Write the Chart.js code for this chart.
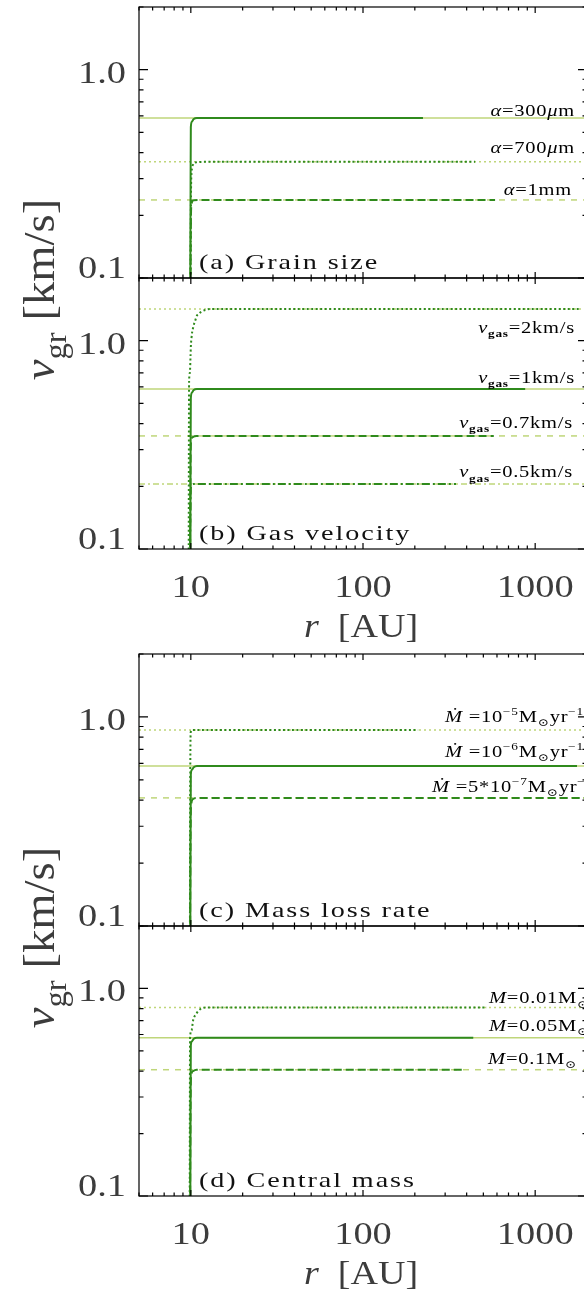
<!DOCTYPE html>
<html>
<head>
<meta charset="utf-8">
<script src="https://cdn.jsdelivr.net/npm/chart.js@4.4.0/dist/chart.umd.min.js"></script>
<style>
  html, body { margin: 0; padding: 0; background: #fff; }
  body { width: 584px; height: 1293px; overflow: hidden; position: relative; }
  canvas { position: absolute; left: 0; top: 0; }
</style>
</head>
<body>
<canvas id="pa" width="600" height="1293"></canvas>
<canvas id="pb" width="600" height="1293"></canvas>
<canvas id="pc" width="600" height="1293"></canvas>
<canvas id="pd" width="600" height="1293"></canvas>
<script>
// Axis ranges and ticks
const R_MIN = 5, R_MAX = 2000;
const V_MIN = 0.1, V_MAX = 2.0;
const xTicks = [5, 6, 7, 8, 9, 10, 20, 30, 40, 50, 60, 70, 80, 90, 100,
                200, 300, 400, 500, 600, 700, 800, 900, 1000, 2000];
const yTicks = [0.1, 0.2, 0.3, 0.4, 0.5, 0.6, 0.7, 0.8, 0.9, 1.0, 2.0];
const xTickLabels = [10, 100, 1000];
const yTickLabels = [0.1, 1.0];
const TERM_R = [5, 2000];

// (a) Grain size: terminal velocities (300um, 700um, 1mm) and numerical curves
const grainTerm = [0.587, 0.361, 0.237];
const grain300R = [9.93, 9.97, 10.0, 10.13, 10.4, 10.85, 12, 223];
const grain300V = [0.09, 0.3, 0.53, 0.562, 0.58, 0.587, 0.587, 0.587];
const grain700R = [9.95, 10.02, 10.1, 10.3, 10.7, 12, 448];
const grain700V = [0.09, 0.25, 0.32, 0.35, 0.359, 0.361, 0.361];
const grain1mmR = [9.95, 10.02, 10.1, 10.4, 12, 585];
const grain1mmV = [0.09, 0.2, 0.228, 0.236, 0.237, 0.237];

// (b) Gas velocity (2, 1, 0.7, 0.5 km/s)
const gasTerm = [1.42, 0.587, 0.349, 0.205];
const gas2R = [9.72, 9.77, 9.87, 9.96, 10.0, 10.09, 10.17, 10.31, 10.45, 10.65, 10.84, 11.13, 11.54, 12.34, 13.1, 1800];
const gas2V = [0.09, 0.635, 0.70, 0.847, 0.936, 1.03, 1.093, 1.155, 1.207, 1.262, 1.318, 1.348, 1.378, 1.41, 1.42, 1.42];
const gas1R = [9.93, 9.97, 10.0, 10.13, 10.4, 10.85, 12, 875];
const gas1V = [0.09, 0.3, 0.53, 0.562, 0.58, 0.587, 0.587, 0.587];
const gas07R = [9.9, 9.97, 10.05, 10.3, 10.8, 575];
const gas07V = [0.09, 0.28, 0.33, 0.345, 0.349, 0.349];
const gas05R = [9.9, 9.97, 10.05, 10.4, 347];
const gas05V = [0.09, 0.18, 0.2, 0.205, 0.205];

// (c) Mass loss rate (1e-5, 1e-6, 5e-7 Msun/yr)
const mdotTerm = [0.867, 0.583, 0.41];
const mdot5R = [9.88, 9.92, 10.0, 10.2, 209];
const mdot5V = [0.09, 0.5, 0.85, 0.867, 0.867];
const mdot6R = [9.93, 9.97, 10.0, 10.13, 10.4, 10.85, 12, 1750];
const mdot6V = [0.09, 0.3, 0.53, 0.558, 0.575, 0.583, 0.583, 0.583];
const mdot57R = [9.9, 9.97, 10.05, 10.3, 10.8, 1950];
const mdot57V = [0.09, 0.3, 0.38, 0.405, 0.41, 0.41];

// (d) Central mass (0.01, 0.05, 0.1 Msun)
const massTerm = [0.81, 0.579, 0.406];
const mass001R = [9.85, 9.9, 10.09, 10.31, 10.79, 11.28, 12.4, 525];
const mass001V = [0.09, 0.58, 0.628, 0.702, 0.758, 0.792, 0.81, 0.81];
const mass005R = [9.93, 9.97, 10.0, 10.13, 10.4, 10.85, 12, 437];
const mass005V = [0.09, 0.3, 0.53, 0.555, 0.572, 0.579, 0.579, 0.579];
const mass01R = [9.9, 9.97, 10.05, 10.3, 10.8, 390];
const mass01V = [0.09, 0.3, 0.38, 0.4, 0.406, 0.406];

// Styles
const DARK = '#2f8a1c';
const LIGHT = '#bfd67a';
const DASH_DARK = { solid: [], dot: [2, 2.5], dash: [8, 4], dashdot: [8, 3, 2, 3] };
const DASH_LIGHT = { solid: [], dot: [2, 3], dash: [6, 6], dashdot: [6, 3, 2, 3] };
const SERIF = '"Liberation Serif", "DejaVu Serif", serif';
const TEXT = '#3c3c3c';
const PAGE_W = 600, PAGE_H = 1293;
const PLOT_LEFT = 139, PLOT_RIGHT = 587;

function curve(rs, vs, style) {
  return {
    data: rs.map((r, i) => ({ x: r, y: vs[i] })),
    borderColor: DARK, borderWidth: 2, borderDash: DASH_DARK[style],
    showLine: true, pointRadius: 0, cubicInterpolationMode: 'monotone', order: 0
  };
}

function terminal(v, style) {
  return {
    data: TERM_R.map(r => ({ x: r, y: v })),
    borderColor: LIGHT, borderWidth: 1.5, borderDash: DASH_LIGHT[style],
    showLine: true, pointRadius: 0, order: 1
  };
}

// Draw text made of pieces (italic, bold, sub/superscript)
function drawRich(ctx, segs, x, y, o) {
  ctx.save();
  ctx.translate(x, y);
  if (o.rot) ctx.rotate(o.rot);
  ctx.scale(o.sx || 1, 1);
  ctx.letterSpacing = (o.ls || 0) + 'px';
  ctx.textBaseline = 'alphabetic';
  ctx.textAlign = 'left';
  ctx.fillStyle = o.color || '#000';
  const parts = segs.map(s => {
    const sz = (s.sub || s.sup) ? o.size * (o.small || 0.65) : o.size;
    const font = (s.it ? 'italic ' : '') + (s.b ? 'bold ' : '') + sz + 'px ' + SERIF;
    ctx.font = font;
    const dy = s.sub ? o.size * 0.28 : (s.sup ? -o.size * 0.42 : 0);
    return { t: s.t, font, dy, w: ctx.measureText(s.t).width };
  });
  const total = parts.reduce((a, p) => a + p.w, 0);
  let cx = o.align === 'right' ? -total : (o.align === 'center' ? -total / 2 : 0);
  parts.forEach(p => {
    ctx.font = p.font;
    ctx.fillText(p.t, cx, p.dy);
    cx += p.w;
  });
  ctx.restore();
}

// Frame, inward ticks, tick labels and annotations
const panelPlugin = {
  id: 'panel',
  afterDraw(chart, args, opts) {
    const ctx = chart.ctx;
    const { left, right, top, bottom } = chart.chartArea;
    const xs = chart.scales.x, ys = chart.scales.y;
    ctx.save();
    ctx.strokeStyle = '#000';
    ctx.lineWidth = 1.2;
    ctx.setLineDash([]);
    ctx.strokeRect(left, top, right - left, bottom - top);
    ctx.beginPath();
    xs.ticks.forEach(t => {
      const px = xs.getPixelForValue(t.value);
      const len = xTickLabels.includes(t.value) ? 6 : 3.5;
      ctx.moveTo(px, bottom); ctx.lineTo(px, bottom - len);
      ctx.moveTo(px, top); ctx.lineTo(px, top + len);
    });
    ys.ticks.forEach(t => {
      const py = ys.getPixelForValue(t.value);
      const len = yTickLabels.includes(t.value) ? 9 : 4.5;
      ctx.moveTo(left, py); ctx.lineTo(left + len, py);
      ctx.moveTo(right, py); ctx.lineTo(right - len, py);
    });
    ctx.stroke();
    ctx.restore();

    // y tick labels
    yTickLabels.forEach(v => {
      const py = ys.getPixelForValue(v);
      const yb = v === V_MIN ? py : py + 13;
      drawRich(ctx, [{ t: v.toFixed(1) }], 126, yb, { size: 31, sx: 1.24, align: 'right', color: TEXT });
    });

    // x tick labels and title
    if (opts.showX) {
      xTickLabels.forEach(v => {
        drawRich(ctx, [{ t: String(v) }], xs.getPixelForValue(v), bottom + 48,
          { size: 31, sx: 1.24, align: 'center', color: TEXT });
      });
      drawRich(ctx, [{ t: 'r', it: 1 }, { t: '  [AU]' }], 361, bottom + 88,
        { size: 34, sx: 1.12, align: 'center', color: TEXT });
    }

    // y title, shared by the pair of panels
    if (opts.yTitle) {
      drawRich(ctx, [{ t: 'v', it: 1 }, { t: 'gr', sub: 1 }, { t: ' [km/s]' }], 54, top + 11.5,
        { size: 44, sx: 1.06, align: 'center', rot: -Math.PI / 2, color: TEXT, small: 0.7 });
    }

    // panel title
    drawRich(ctx, [{ t: opts.title }], 199, bottom - 9, { size: 22, sx: 1.28, ls: 1.5, color: '#111' });

    // line labels
    opts.labels.forEach(l => {
      const py = ys.getPixelForValue(l.v) + l.dy;
      drawRich(ctx, l.segs, l.x, py, { size: 16, sx: 1.28, ls: 0.6, align: l.align || 'right', color: '#000' });
    });
  }
};

function makePanel(id, top, bottom, datasets, panel) {
  return new Chart(document.getElementById(id), {
    type: 'scatter',
    data: { datasets },
    options: {
      responsive: false,
      animation: false,
      devicePixelRatio: 1,
      layout: { padding: { left: 0, right: PAGE_W - PLOT_RIGHT, top: top, bottom: PAGE_H - bottom } },
      plugins: { legend: { display: false }, tooltip: { enabled: false }, panel },
      scales: {
        x: {
          type: 'logarithmic', min: R_MIN, max: R_MAX,
          ticks: { display: false, autoSkip: false },
          grid: { display: false, drawTicks: false }, border: { display: false },
          afterBuildTicks: s => { s.ticks = xTicks.map(v => ({ value: v })); },
          afterFit: s => { s.height = 0; }
        },
        y: {
          type: 'logarithmic', min: V_MIN, max: V_MAX,
          ticks: { display: false, autoSkip: false },
          grid: { display: false, drawTicks: false }, border: { display: false },
          afterBuildTicks: s => { s.ticks = yTicks.map(v => ({ value: v })); },
          afterFit: s => { s.width = PLOT_LEFT; }
        }
      }
    },
    plugins: [panelPlugin]
  });
}

const um = [{ t: 'μ', it: 1 }, { t: 'm' }];
const msun = [{ t: 'M' }, { t: '⊙', sub: 1 }];
const peryr = [{ t: 'yr' }, { t: '−1', sup: 1 }];

makePanel('pa', 7, 278, [
  curve(grain300R, grain300V, 'solid'),
  curve(grain700R, grain700V, 'dot'),
  curve(grain1mmR, grain1mmV, 'dash'),
  terminal(grainTerm[0], 'solid'),
  terminal(grainTerm[1], 'dot'),
  terminal(grainTerm[2], 'dash')
], {
  title: '(a) Grain size', showX: false, yTitle: false,
  labels: [
    { segs: [{ t: 'α', it: 1 }, { t: '=300' }, ...um], v: grainTerm[0], dy: -2, x: 575 },
    { segs: [{ t: 'α', it: 1 }, { t: '=700' }, ...um], v: grainTerm[1], dy: -9, x: 575 },
    { segs: [{ t: 'α', it: 1 }, { t: '=1mm' }], v: grainTerm[2], dy: -5, x: 572 }
  ]
});

makePanel('pb', 278, 549, [
  curve(gas2R, gas2V, 'dot'),
  curve(gas1R, gas1V, 'solid'),
  curve(gas07R, gas07V, 'dash'),
  curve(gas05R, gas05V, 'dashdot'),
  terminal(gasTerm[0], 'dot'),
  terminal(gasTerm[1], 'solid'),
  terminal(gasTerm[2], 'dash'),
  terminal(gasTerm[3], 'dashdot')
], {
  title: '(b) Gas velocity', showX: true, yTitle: true,
  labels: [
    { segs: [{ t: 'v', it: 1 }, { t: 'gas', sub: 1, b: 1 }, { t: '=2km/s' }], v: gasTerm[0], dy: 24, x: 575 },
    { segs: [{ t: 'v', it: 1 }, { t: 'gas', sub: 1, b: 1 }, { t: '=1km/s' }], v: gasTerm[1], dy: -6, x: 575 },
    { segs: [{ t: 'v', it: 1 }, { t: 'gas', sub: 1, b: 1 }, { t: '=0.7km/s' }], v: gasTerm[2], dy: -8, x: 573 },
    { segs: [{ t: 'v', it: 1 }, { t: 'gas', sub: 1, b: 1 }, { t: '=0.5km/s' }], v: gasTerm[3], dy: -7, x: 573 }
  ]
});

makePanel('pc', 654, 926, [
  curve(mdot5R, mdot5V, 'dot'),
  curve(mdot6R, mdot6V, 'solid'),
  curve(mdot57R, mdot57V, 'dash'),
  terminal(mdotTerm[0], 'dot'),
  terminal(mdotTerm[1], 'solid'),
  terminal(mdotTerm[2], 'dash')
], {
  title: '(c) Mass loss rate', showX: false, yTitle: false,
  labels: [
    { segs: [{ t: 'Ṁ', it: 1 }, { t: ' =10' }, { t: '−5', sup: 1 }, ...msun, ...peryr], v: mdotTerm[0], dy: -8, x: 445, align: 'left' },
    { segs: [{ t: 'Ṁ', it: 1 }, { t: ' =10' }, { t: '−6', sup: 1 }, ...msun, ...peryr], v: mdotTerm[1], dy: -9, x: 445, align: 'left' },
    { segs: [{ t: 'Ṁ', it: 1 }, { t: ' =5*10' }, { t: '−7', sup: 1 }, ...msun, ...peryr], v: mdotTerm[2], dy: -6, x: 432, align: 'left' }
  ]
});

makePanel('pd', 926, 1196, [
  curve(mass001R, mass001V, 'dot'),
  curve(mass005R, mass005V, 'solid'),
  curve(mass01R, mass01V, 'dash'),
  terminal(massTerm[0], 'dot'),
  terminal(massTerm[1], 'solid'),
  terminal(massTerm[2], 'dash')
], {
  title: '(d) Central mass', showX: true, yTitle: true,
  labels: [
    { segs: [{ t: 'M', it: 1 }, { t: '=0.01' }, ...msun], v: massTerm[0], dy: -4, x: 489, align: 'left' },
    { segs: [{ t: 'M', it: 1 }, { t: '=0.05' }, ...msun], v: massTerm[1], dy: -7, x: 489, align: 'left' },
    { segs: [{ t: 'M', it: 1 }, { t: '=0.1' }, ...msun], v: massTerm[2], dy: -6, x: 577 }
  ]
});
</script>
</body>
</html>
